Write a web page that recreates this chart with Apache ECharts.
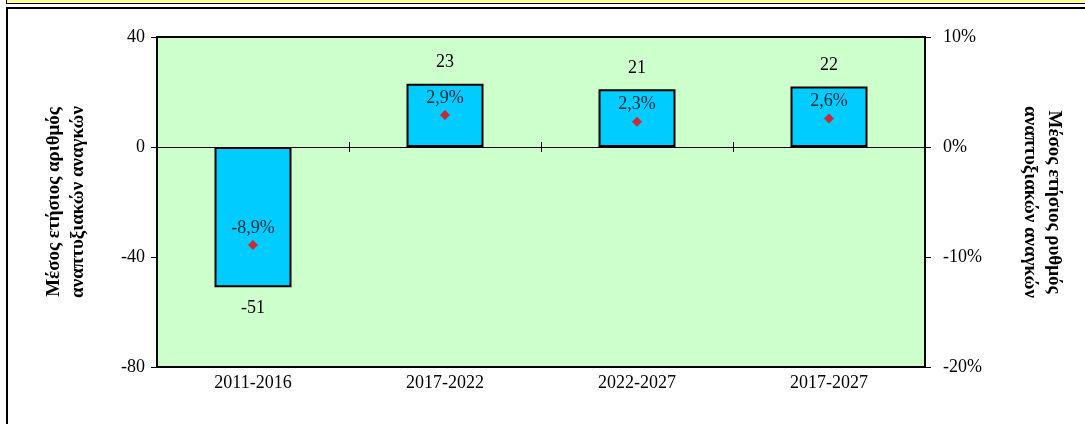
<!DOCTYPE html>
<html>
<head>
<meta charset="utf-8">
<script src="https://cdn.jsdelivr.net/npm/echarts@6/dist/echarts.min.js"></script>
<style>
  html, body { margin: 0; padding: 0; background: #fff; }
  #strip { position: absolute; left: 6px; top: -2px; width: 1100px; height: 5px; background: #ffff99; border-left: 1px solid #000; border-bottom: 1px solid #000; }
  #frame { position: absolute; left: 6px; top: 7px; width: 1100px; height: 440px; border-left: 2px solid #000; border-top: 2px solid #000; }
  #chart { position: absolute; left: 0; top: 0; width: 1085px; height: 424px; }
</style>
</head>
<body>
<div id="strip"></div>
<div id="frame"></div>
<div id="chart"></div>
<script>
// periods
const categories = ['2011-2016', '2017-2022', '2022-2027', '2017-2027'];
// average yearly number of needs
const needsCount = [-51, 23, 21, 22];
// average yearly rate (%)
const needsRate = [-8.9, 2.9, 2.3, 2.6];

const fontFamily = '"Liberation Serif", "Times New Roman", serif';
const fontColor = '#000';

const chart = echarts.init(document.getElementById('chart'));

const option = {
  animation: false,
  textStyle: { fontFamily: fontFamily },
  grid: {
    left: 157, right: 160, top: 37, bottom: 57,
    outerBoundsMode: 'none',
    containLabel: false,
    show: true,
    backgroundColor: '#ccffcc',
    borderColor: '#000',
    borderWidth: 2,
  },
  xAxis: [
    {
      type: 'category',
      data: categories,
      position: 'bottom',
      axisLine: { show: false },
      axisTick: { show: false },
      axisLabel: { color: fontColor, fontSize: 18, fontFamily: fontFamily, margin: 7 },
    },
    {
      type: 'category',
      data: categories,
      position: 'top',
      axisLine: { show: true, onZero: true, onZeroAxisIndex: 0, lineStyle: { color: '#000', width: 1 } },
      axisTick: { show: true, inside: true, length: 5, lineStyle: { color: '#000' } },
      axisLabel: { show: false },
    },
    {
      type: 'category',
      data: categories,
      position: 'top',
      axisLine: { show: false, onZero: true, onZeroAxisIndex: 0 },
      axisTick: { show: true, inside: false, length: 5, lineStyle: { color: '#000' } },
      axisLabel: { show: false },
    },
  ],
  yAxis: [
    {
      type: 'value',
      min: -80, max: 40, interval: 40,
      name: 'Μέσος ετήσιος αριθμός\nαναπτυξιακών αναγκών',
      nameLocation: 'middle',
      nameGap: 67,
      nameTextStyle: { color: fontColor, fontSize: 19, fontWeight: 'bold', fontFamily: fontFamily, lineHeight: 24 },
      axisLine: { show: true, lineStyle: { color: '#000', width: 2 } },
      axisTick: { show: true, length: 6, lineStyle: { color: '#000' } },
      axisLabel: { color: fontColor, fontSize: 18, fontFamily: fontFamily, margin: 12 },
      splitLine: { show: false },
    },
    {
      type: 'value',
      min: -20, max: 10, interval: 10,
      name: 'Μέσος ετήσιος ρυθμός\nαναπτυξιακών αναγκών',
      nameLocation: 'middle',
      nameGap: 93,
      nameRotate: -90,
      nameTextStyle: { color: fontColor, fontSize: 19, fontWeight: 'bold', fontFamily: fontFamily, lineHeight: 24 },
      axisLine: { show: true, lineStyle: { color: '#000', width: 2 } },
      axisTick: { show: true, length: 6, lineStyle: { color: '#000' } },
      axisLabel: { color: fontColor, fontSize: 18, fontFamily: fontFamily, margin: 18, formatter: '{value}%' },
      splitLine: { show: false },
    },
  ],
  series: [
    {
      name: 'count',
      type: 'bar',
      xAxisIndex: 0,
      yAxisIndex: 0,
      barWidth: 77,
      data: needsCount.map(v => ({
        value: v,
        label: { position: v < 0 ? 'bottom' : 'top' },
      })),
      itemStyle: { color: '#00ccff', borderColor: '#000', borderWidth: 2 },
      label: { show: true, color: fontColor, fontSize: 18, fontFamily: fontFamily, distance: 12 },
    },
    {
      name: 'rate',
      type: 'scatter',
      xAxisIndex: 0,
      yAxisIndex: 1,
      symbol: 'diamond',
      symbolSize: 10,
      data: needsRate,
      itemStyle: { color: '#ff0000' },
      label: {
        show: true,
        position: 'top',
        distance: 3,
        color: fontColor,
        fontSize: 18,
        fontFamily: fontFamily,
        formatter: p => p.value.toFixed(1).replace('.', ',') + '%',
      },
    },
  ],
};

chart.setOption(option);
</script>
</body>
</html>
